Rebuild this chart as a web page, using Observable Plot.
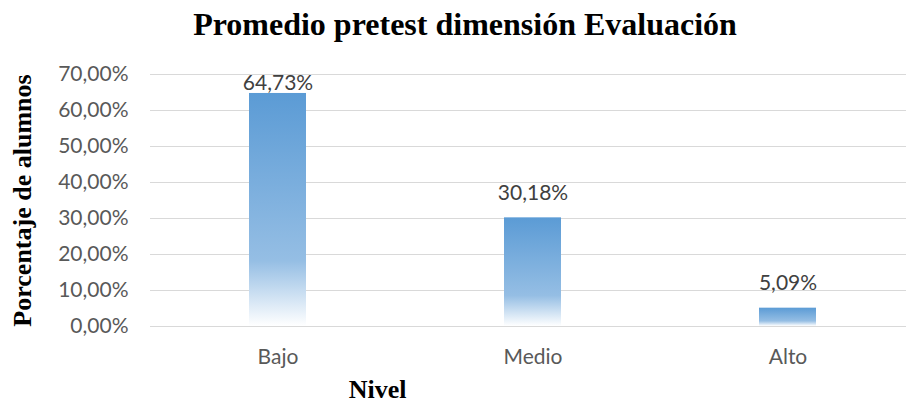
<!DOCTYPE html>
<html>
<head>
<meta charset="utf-8">
<script src="https://cdn.jsdelivr.net/npm/d3@7"></script>
<script src="https://cdn.jsdelivr.net/npm/@observablehq/plot@0.6"></script>
<style>
  html, body { margin: 0; padding: 0; background: #fff; }
  #chart { width: 906px; height: 404px; position: relative; }
  .title {
    height: 54px; box-sizing: border-box; padding-top: 6px; padding-left: 24px;
    font: bold 32px/36px "Liberation Serif", "Times New Roman", serif;
    color: #000; text-align: center; white-space: nowrap;
  }
</style>
</head>
<body>
<div id="chart">
  <div class="title">Promedio pretest dimensión Evaluación</div>
</div>
<script>
// Nivel alcanzado y porcentaje de alumnos
const niveles = ["Bajo", "Medio", "Alto"];
const porcentajes = [64.73, 30.18, 5.09];
const yTicks = [0, 10, 20, 30, 40, 50, 60, 70];

const data = niveles.map((nivel, i) => ({nivel, pct: porcentajes[i]}));
const fmt = v => v.toFixed(2).replace(".", ",") + "%";
const yMax = 70;
// labels that would spill over the top of the frame sit closer to their bar
const nearTop = d => d.pct + 9 > yMax;

const tickFont = '"Lato", "Open Sans", sans-serif';
const serif = '"Liberation Serif", "Times New Roman", serif';

const labelStyle = {
  x: "nivel", y: "pct", text: d => fmt(d.pct),
  lineAnchor: "bottom", fill: "#404040", fontSize: 21, fontFamily: tickFont
};

const plot = Plot.plot({
  width: 906,
  height: 350,
  marginLeft: 150,
  marginRight: 0,
  marginTop: 20,
  marginBottom: 78,
  style: {background: "transparent", fontFamily: tickFont, overflow: "visible"},
  x: {domain: niveles, range: [150, 915], padding: 0, label: null},
  y: {domain: [0, yMax], label: null},
  marks: [
    Plot.ruleY(yTicks, {stroke: "#d9d9d9", strokeWidth: 1.2}),
    Plot.barY(data, {
      x: "nivel", y: "pct",
      fill: "url(#barGrad)",
      insetLeft: 99, insetRight: 99
    }),
    Plot.text(data.filter(d => !nearTop(d)), {...labelStyle, dy: -18}),
    Plot.text(data.filter(nearTop), {...labelStyle, dy: -3}),
    Plot.axisY({
      ticks: yTicks, tickFormat: fmt, tickSize: 0, tickPadding: 22,
      fontSize: 21, fill: "#595959", label: null
    }),
    Plot.axisX({
      tickSize: 0, tickPadding: 23, fontSize: 21, fill: "#595959", label: null
    }),
    Plot.text(["Nivel"], {
      frameAnchor: "bottom", dx: -151, dy: 71,
      fontFamily: serif, fontWeight: "bold", fontSize: 26, fill: "#000",
      lineAnchor: "bottom"
    }),
    Plot.text(["Porcentaje de alumnos"], {
      frameAnchor: "left", dx: -128, rotate: -90,
      textAnchor: "middle", lineAnchor: "middle",
      fontFamily: serif, fontWeight: "bold", fontSize: 26, fill: "#000"
    })
  ]
});

// Vertical gradient used by each bar (fades to white near the base)
const svg = d3.select(plot);
const grad = svg.insert("defs", ":first-child")
  .append("linearGradient")
  .attr("id", "barGrad")
  .attr("x1", 0).attr("y1", 0).attr("x2", 0).attr("y2", 1);
grad.append("stop").attr("offset", "0%").attr("stop-color", "#5b9bd5");
grad.append("stop").attr("offset", "72%").attr("stop-color", "#95bee4");
grad.append("stop").attr("offset", "100%").attr("stop-color", "#ffffff");

document.getElementById("chart").appendChild(plot);
</script>
</body>
</html>
